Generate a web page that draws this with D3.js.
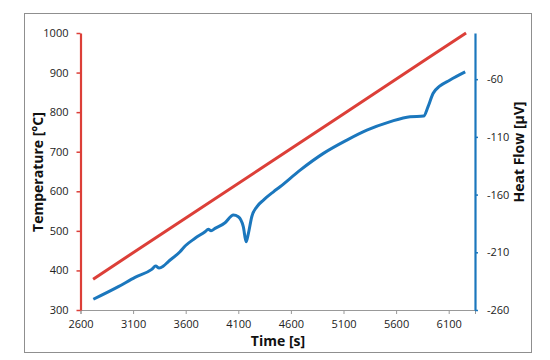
<!DOCTYPE html>
<html><head><meta charset="utf-8">
<script src="https://cdn.jsdelivr.net/npm/d3@7"></script>
<style>body{margin:0;background:#fff}svg{display:block}</style>
</head><body>
<script>
// ---- data ----
const xTicks = [2600, 3100, 3600, 4100, 4600, 5100, 5600, 6100];
const tempTicks = [300, 400, 500, 600, 700, 800, 900, 1000];
const hfTicks = [-260, -210, -160, -110, -60];
const tempTime = [2720, 3500, 4300, 5100, 5900, 6265];
const tempValue = [378, 515, 655, 795, 936, 1000];
const hfTime = [2722, 2960, 3118, 3277, 3315, 3347, 3388, 3435, 3546, 3594, 3689, 3784, 3815, 3841, 3879, 3974, 4053, 4100, 4148, 4174, 4196, 4228, 4276, 4339, 4434, 4497, 4688, 4909, 5132, 5322, 5539, 5733, 5862, 5903, 5951, 6014, 6109, 6257];
const hfValue = [-250.7, -239.8, -231.7, -224.8, -221.9, -223.6, -221.9, -218.0, -209.5, -204.6, -197.9, -192.2, -190.1, -191.3, -189.3, -184.4, -177.7, -179.2, -187.9, -200.9, -193.6, -179.2, -170.6, -164.8, -157.6, -153.2, -138.8, -124.3, -112.8, -104.2, -97.0, -92.5, -92.0, -84.0, -72.4, -66.1, -60.9, -53.7];

const W = 550, H = 360;
const m = {left: 80.5, right: 475, top: 33, bottom: 310};
const RED = "#dc3f38", BLUE = "#1b77bd";
const svg = d3.select("body").append("svg").attr("width", W).attr("height", H);

svg.append("rect").attr("x", 24.5).attr("y", 13.5).attr("width", 507).attr("height", 339)
  .attr("fill", "#fff").attr("stroke", "#8f8f8f").attr("stroke-width", 1);

const x = d3.scaleLinear().domain([2600, 6350]).range([m.left, m.right]);
const yT = d3.scaleLinear().domain([300, 1000]).range([m.bottom, m.top]);
const yH = d3.scaleLinear().domain([-260, -20]).range([m.bottom, m.top]);

const font = "'Open Sans', sans-serif";
const plain = d => String(d);

// x axis
const gx = svg.append("g").attr("transform", `translate(0,${m.bottom})`)
  .call(d3.axisBottom(x).tickValues(xTicks).tickSize(4).tickPadding(6).tickFormat(plain));
gx.select(".domain").attr("stroke", "#999");
gx.selectAll(".tick line").attr("stroke", "#999");
gx.selectAll("text").attr("font-family", font).attr("font-size", 11).attr("fill", "#222");

// left axis
const gl = svg.append("g").attr("transform", `translate(${m.left},0)`)
  .call(d3.axisLeft(yT).tickValues(tempTicks).tickSize(4).tickPadding(8).tickSizeOuter(0).tickFormat(plain));
gl.select(".domain").attr("stroke", RED).attr("stroke-width", 2.2);
gl.selectAll(".tick line").attr("stroke", RED).attr("stroke-width", 1.5);
gl.selectAll("text").attr("font-family", font).attr("font-size", 11).attr("fill", "#222");

// right axis
const gr = svg.append("g").attr("transform", `translate(${m.right},0)`)
  .call(d3.axisRight(yH).tickValues(hfTicks).tickSize(3).tickPadding(9).tickSizeOuter(0).tickFormat(plain));
gr.select(".domain").attr("stroke", BLUE).attr("stroke-width", 2.2);
gr.selectAll(".tick line").attr("stroke", BLUE).attr("stroke-width", 1.5);
gr.selectAll("text").attr("font-family", font).attr("font-size", 11).attr("fill", "#222");

// lines
const tempData = tempTime.map((t, i) => [t, tempValue[i]]);
const hfData = hfTime.map((t, i) => [t, hfValue[i]]);
svg.append("path").datum(tempData)
  .attr("d", d3.line().x(d => x(d[0])).y(d => yT(d[1])))
  .attr("fill", "none").attr("stroke", RED).attr("stroke-width", 3);
svg.append("path").datum(hfData)
  .attr("d", d3.line().curve(d3.curveMonotoneX).x(d => x(d[0])).y(d => yH(d[1])))
  .attr("fill", "none").attr("stroke", BLUE).attr("stroke-width", 3).attr("stroke-linejoin", "round");

// titles
svg.append("text").attr("x", 278).attr("y", 346).attr("text-anchor", "middle")
  .attr("font-family", font).attr("font-weight", "bold").attr("font-size", 14).attr("fill", "#111").text("Time [s]");
svg.append("text").attr("transform", "translate(43,172) rotate(-90)").attr("text-anchor", "middle")
  .attr("font-family", font).attr("font-weight", "bold").attr("font-size", 14).attr("fill", "#111").text("Temperature [°C]");
svg.append("text").attr("transform", "translate(524,152) rotate(-90)").attr("text-anchor", "middle")
  .attr("font-family", font).attr("font-weight", "bold").attr("font-size", 14).attr("fill", "#111").text("Heat Flow [µV]");
</script>
</body></html>
